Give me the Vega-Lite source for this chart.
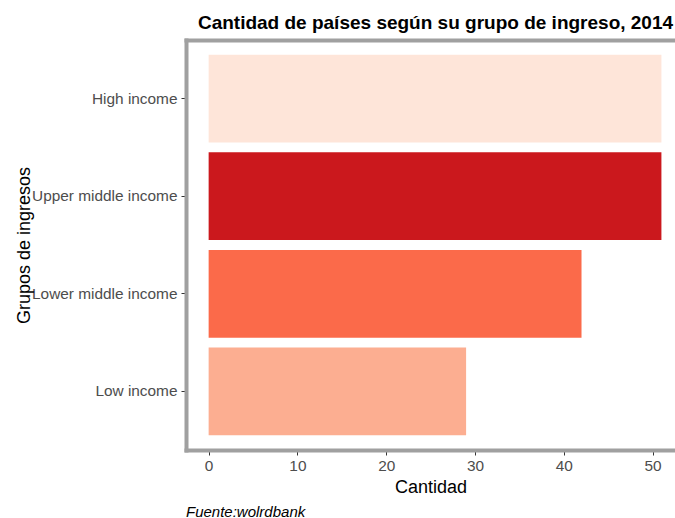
{
  "$schema": "https://vega.github.io/schema/vega-lite/v6.json",
  "background": "white",
  "padding": {"left": 15, "top": 14, "right": 0, "bottom": 4},
  "config": {
    "font": "Liberation Sans",
    "view": {"stroke": null},
    "axis": {
      "grid": false,
      "domain": true,
      "domainColor": "#A0A0A0",
      "domainWidth": 4,
      "domainCap": "square",
      "tickColor": "#333333",
      "tickSize": 5,
      "tickWidth": 1,
      "labelColor": "#4D4D4D",
      "labelFont": "Liberation Sans",
      "labelFontSize": 15.4,
      "titleFont": "Liberation Sans",
      "titleFontSize": 18,
      "titleFontWeight": "normal",
      "titleColor": "#000000"
    }
  },
  "title": {
    "text": "Fuente:wolrdbank",
    "orient": "bottom",
    "anchor": "start",
    "frame": "group",
    "dx": 0,
    "font": "Liberation Sans",
    "fontSize": 15,
    "fontStyle": "italic",
    "fontWeight": "normal",
    "color": "#000000",
    "offset": 9
  },
  "vconcat": [
    {
      "width": 489,
      "height": 410,
      "title": {
        "text": "Cantidad  de países según su grupo de ingreso, 2014",
        "anchor": "middle",
        "frame": "group",
        "dx": 5,
        "font": "Liberation Sans",
        "fontSize": 19,
        "fontWeight": "bold",
        "color": "#000000",
        "offset": 7
      },
      "data": {
        "values": [
          {"grupo": "High income", "cantidad": 51},
          {"grupo": "Upper middle income", "cantidad": 51},
          {"grupo": "Lower middle income", "cantidad": 42},
          {"grupo": "Low income", "cantidad": 29}
        ]
      },
      "encoding": {
        "y": {
          "field": "grupo",
          "type": "nominal",
          "sort": ["High income", "Upper middle income", "Lower middle income", "Low income"],
          "scale": {"paddingInner": 0.1, "paddingOuter": 0.15},
          "axis": {"title": "Grupos de ingresos", "labelPadding": 4, "titlePadding": -2}
        },
        "x2": {"datum": 0}
      },
      "layer": [
        {
          "mark": {"type": "bar"},
          "encoding": {
            "x": {
              "field": "cantidad",
              "type": "quantitative",
              "stack": null,
              "scale": {"domain": [-2.55, 52.53], "nice": false, "zero": false},
              "axis": {"title": "Cantidad", "orient": "bottom", "values": [0, 10, 20, 30, 40, 50], "labelPadding": 3, "titlePadding": 5}
            },
            "color": {
              "field": "grupo",
              "type": "nominal",
              "scale": {
                "domain": ["High income", "Upper middle income", "Lower middle income", "Low income"],
                "range": ["#FEE5D9", "#CB181D", "#FB6A4A", "#FCAE91"]
              },
              "legend": null
            }
          }
        },
        {
          "mark": {"type": "bar", "opacity": 0},
          "encoding": {
            "x": {
              "field": "cantidad",
              "type": "quantitative",
              "stack": null,
              "scale": {"domain": [-2.55, 52.53], "nice": false, "zero": false},
              "axis": {"title": null, "orient": "top", "labels": false, "ticks": false}
            }
          }
        }
      ],
      "resolve": {"axis": {"x": "independent"}}
    }
  ]
}
